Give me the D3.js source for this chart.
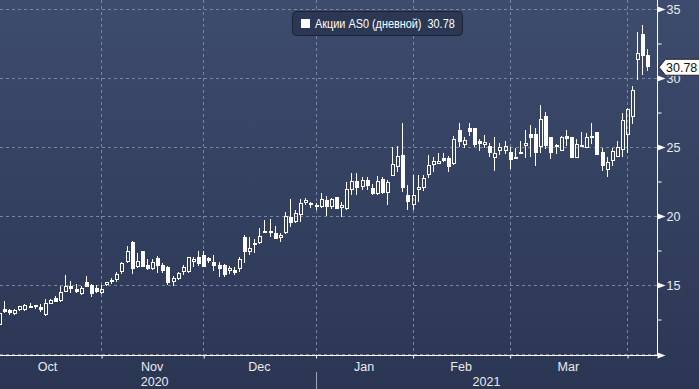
<!DOCTYPE html>
<html><head><meta charset="utf-8">
<script src="https://cdn.jsdelivr.net/npm/d3@7"></script>
<style>html,body{margin:0;padding:0;background:#2e3a57;overflow:hidden}svg{display:block}</style>
</head><body>
<svg id="chart" width="699" height="389"></svg>
<script>
// ---------- DATA ----------
const dates = [
"2020-10-02","2020-10-05","2020-10-06","2020-10-07","2020-10-08","2020-10-09","2020-10-12","2020-10-13","2020-10-14","2020-10-15","2020-10-16","2020-10-19","2020-10-20","2020-10-21","2020-10-22","2020-10-23","2020-10-26","2020-10-27","2020-10-28","2020-10-29","2020-10-30",
"2020-11-02","2020-11-03","2020-11-04","2020-11-05","2020-11-06","2020-11-09","2020-11-10","2020-11-11","2020-11-12","2020-11-13","2020-11-16","2020-11-17","2020-11-18","2020-11-19","2020-11-20","2020-11-23","2020-11-24","2020-11-25","2020-11-27","2020-11-30",
"2020-12-01","2020-12-02","2020-12-03","2020-12-04","2020-12-07","2020-12-08","2020-12-09","2020-12-10","2020-12-11","2020-12-14","2020-12-15","2020-12-16","2020-12-17","2020-12-18","2020-12-21","2020-12-22","2020-12-23","2020-12-24","2020-12-28","2020-12-29","2020-12-30","2020-12-31",
"2021-01-04","2021-01-05","2021-01-06","2021-01-07","2021-01-08","2021-01-11","2021-01-12","2021-01-13","2021-01-14","2021-01-15","2021-01-19","2021-01-20","2021-01-21","2021-01-22","2021-01-25","2021-01-26","2021-01-27","2021-01-28","2021-01-29",
"2021-02-01","2021-02-02","2021-02-03","2021-02-04","2021-02-05","2021-02-08","2021-02-09","2021-02-10","2021-02-11","2021-02-12","2021-02-16","2021-02-17","2021-02-18","2021-02-19","2021-02-22","2021-02-23","2021-02-24","2021-02-25","2021-02-26",
"2021-03-01","2021-03-02","2021-03-03","2021-03-04","2021-03-05","2021-03-08","2021-03-09","2021-03-10","2021-03-11","2021-03-12","2021-03-15","2021-03-16","2021-03-17","2021-03-18","2021-03-19","2021-03-22","2021-03-23","2021-03-24","2021-03-25","2021-03-26","2021-03-29","2021-03-30","2021-03-31",
"2021-04-01","2021-04-05","2021-04-06","2021-04-07","2021-04-08"
];
const opens = [13.0,12.1,13.28,13.17,12.9,13.17,13.2,13.36,13.5,13.43,12.83,13.64,14.03,13.86,14.5,14.93,14.73,14.35,15.24,15.0,14.8,
14.44,15.0,15.2,15.36,15.92,16.7,18.1,16.28,17.46,16.45,16.16,16.98,16.47,16.28,15.2,15.41,15.92,15.97,16.7,17.0,
17.17,16.94,16.7,16.45,16.45,16.0,16.08,16.14,18.5,17.42,18.07,18.02,18.8,18.9,18.8,18.43,18.75,19.95,19.6,20.07,20.96,20.92,
20.67,20.63,21.16,20.67,21.35,20.56,20.49,21.88,22.54,22.08,22.6,22.0,21.57,22.66,21.7,22.9,23.57,24.42,21.52,
20.8,21.88,22.0,22.97,23.7,23.8,24.22,24.18,23.8,26.23,25.14,26.36,26.36,25.43,25.14,25.07,24.18,24.7,24.73,
24.66,24.25,24.54,25.07,25.94,25.94,25.03,27.25,25.7,24.98,24.73,25.8,25.75,24.18,25.0,24.96,25.67,26.1,24.66,23.33,23.99,24.3,24.78,
25.87,27.15,31.3,33.2,31.67];
const highs = [13.5,13.4,13.86,13.28,13.28,13.5,13.6,13.72,13.55,13.6,13.96,14.0,14.2,14.9,15.72,15.3,15.05,14.9,15.66,15.1,15.0,
15.0,15.25,15.5,15.95,16.7,17.85,18.2,17.34,17.46,16.9,16.9,17.1,16.6,16.4,15.65,15.95,16.45,17.05,17.0,17.49,
17.49,17.0,17.2,16.7,16.5,16.4,16.3,17.05,18.6,18.5,18.3,19.1,19.7,19.75,19.3,18.75,20.3,21.2,20.4,21.2,21.3,21.0,
20.95,21.7,21.45,21.3,21.35,21.0,22.5,23.1,23.1,22.85,22.85,22.3,22.9,22.8,22.6,24.98,25.07,26.72,22.25,
22.97,22.97,22.97,24.42,24.3,24.6,24.55,24.35,25.8,26.72,25.7,26.72,26.36,25.6,25.9,25.3,25.7,25.3,25.4,
25.0,24.96,25.4,26.23,26.6,26.35,28.04,27.55,25.75,25.2,25.8,26.2,25.75,25.6,26.1,26.05,26.72,26.1,24.96,24.25,24.9,25.4,27.5,
27.8,29.44,33.35,33.84,32.08];
const lows = [12.3,12.0,13.0,12.8,12.83,13.1,13.12,13.36,13.25,13.07,12.75,13.6,13.75,13.8,14.5,14.4,14.44,14.25,14.83,14.1,14.4,
14.35,14.95,15.1,15.2,15.8,16.57,15.8,16.2,16.28,16.1,16.1,15.9,15.9,15.0,14.93,15.35,15.7,15.9,16.3,16.4,
16.28,16.6,16.0,15.6,15.6,15.8,15.75,15.95,16.57,17.2,17.3,18.0,18.8,18.5,18.3,18.1,18.7,19.23,19.5,19.6,20.8,20.55,
20.4,20.57,20.0,20.5,20.49,19.95,20.45,21.5,21.5,21.88,21.9,21.5,21.5,21.6,20.8,22.9,23.2,21.76,20.43,
20.43,21.0,21.8,22.75,23.2,23.8,23.9,23.2,23.7,25.0,24.95,25.8,25.0,24.7,24.9,24.25,23.28,24.4,24.5,
23.4,24.1,24.54,24.18,24.25,23.65,24.54,24.85,24.1,24.5,24.7,25.1,24.18,24.18,25.0,24.9,25.2,24.42,23.28,22.85,23.6,24.3,24.3,
24.6,26.7,29.86,30.2,30.53];
const closes = [12.6,13.0,13.07,12.95,13.19,13.45,13.55,13.45,13.55,13.2,13.72,13.91,13.8,14.5,14.93,14.7,14.5,14.78,14.83,14.33,14.5,
14.7,15.2,15.36,15.8,16.57,17.49,16.14,16.74,16.33,16.16,16.7,16.38,16.04,15.12,15.49,15.85,16.28,17.0,16.86,16.5,
16.33,16.76,16.38,16.16,15.72,16.2,15.85,16.88,17.4,17.66,17.9,18.55,18.9,18.8,18.33,18.62,20.0,19.52,20.24,20.92,21.16,20.78,
20.8,21.2,20.67,21.2,20.49,20.8,21.96,22.54,22.0,22.6,22.17,21.57,22.54,21.7,22.5,23.77,24.35,22.0,21.04,
21.52,22.08,22.73,23.7,24.0,24.0,24.0,23.53,25.56,25.38,25.5,26.1,25.14,25.2,25.38,24.54,24.54,24.98,25.07,
24.06,24.1,24.66,25.31,25.67,24.54,27.03,25.07,24.6,25.14,25.75,25.56,24.18,25.22,25.14,25.75,25.8,24.42,23.62,23.94,24.71,24.98,26.96,
27.73,29.13,31.83,31.6,30.78];
const yTickValues = [15, 20, 25, 30, 35];
const yMinorTickValues = [12.5, 17.5, 22.5, 27.5, 32.5];
const yGridValues = [10, 15, 20, 25, 30, 35];
const monthNames = ["Jan","Feb","Mar","Apr","May","Jun","Jul","Aug","Sep","Oct","Nov","Dec"];
const legendLabel = "Акции AS0 (дневной)";
const lastValue = 30.78;

// ---------- LAYOUT ----------
const W = 699, H = 389;
const plotRight = 657.5, axisY = 355.5;
const svg = d3.select("#chart");

const x = d3.scaleLinear().domain([0, dates.length - 1]).range([-6.2, -6.2 + (dates.length - 1) * 5.107]);
const y = d3.scaleLinear().domain([10, 35]).range([354, 9]);

// background
const defs = svg.append("defs");
const grad = defs.append("linearGradient").attr("id","bg").attr("x1",0).attr("y1",0).attr("x2",0).attr("y2",1);
grad.append("stop").attr("offset","0%").attr("stop-color","#3d4b6d");
grad.append("stop").attr("offset","100%").attr("stop-color","#2b3653");
svg.append("rect").attr("width",W).attr("height",H).attr("fill","url(#bg)");

// month boundaries from dates
const parsed = dates.map(d => d3.timeParse("%Y-%m-%d")(d));
const monthStarts = [];
parsed.forEach((d, i) => {
  if (i === 0 || d.getMonth() !== parsed[i-1].getMonth()) monthStarts.push({i, m: d.getMonth(), yr: d.getFullYear()});
});

const gridColor = "#7886a6";
// horizontal gridlines
svg.append("g").selectAll("line").data(yGridValues).join("line")
  .attr("x1", 0).attr("x2", plotRight)
  .attr("y1", d => Math.round(y(d)) + 0.5).attr("y2", d => Math.round(y(d)) + 0.5)
  .attr("stroke", gridColor).attr("stroke-dasharray", "3,3").attr("stroke-width", 1);
// vertical gridlines
svg.append("g").selectAll("line").data(monthStarts.filter(m => x(m.i) > 0)).join("line")
  .attr("x1", d => Math.round(x(d.i)) + 0.5).attr("x2", d => Math.round(x(d.i)) + 0.5)
  .attr("y1", 0).attr("y2", axisY)
  .attr("stroke", gridColor).attr("stroke-dasharray", "3,3").attr("stroke-width", 1);

// candles
const g = svg.append("g").attr("shape-rendering","crispEdges");
dates.forEach((d, i) => {
  const o = opens[i], h = highs[i], l = lows[i], c = closes[i];
  const r = Math.round(x(i));
  const top = Math.round(y(Math.max(o, c))), bot = Math.max(Math.round(y(Math.min(o, c))), top + 1);
  const yh = Math.round(y(h)), yl = Math.round(y(l));
  const up = c > o;
  if (up) {
    g.append("line").attr("x1", r + 0.5).attr("x2", r + 0.5).attr("y1", yh).attr("y2", top).attr("stroke", "#fff");
    g.append("line").attr("x1", r + 0.5).attr("x2", r + 0.5).attr("y1", bot).attr("y2", yl).attr("stroke", "#fff");
    g.append("rect").attr("x", r - 0.5).attr("y", top + 0.5).attr("width", 3).attr("height", Math.max(bot - top - 1, 1))
      .attr("fill", "none").attr("stroke", "#fff").attr("stroke-width", 1);
  } else {
    g.append("line").attr("x1", r + 0.5).attr("x2", r + 0.5).attr("y1", yh).attr("y2", yl).attr("stroke", "#fff");
    g.append("rect").attr("x", r - 1).attr("y", top).attr("width", 4).attr("height", Math.max(bot - top, 1)).attr("fill", "#fff");
  }
});

// x axis
const xAxis = d3.axisBottom(x).tickValues(monthStarts.map(m => m.i).filter(i => x(i) > 0)).tickSize(3).tickFormat("");
const xg = svg.append("g").attr("transform", `translate(0.5,${axisY})`).call(xAxis);
xg.select(".domain").remove();
xg.selectAll(".tick line").attr("stroke", "#fff");
svg.append("line").attr("x1", 0).attr("x2", plotRight + 2).attr("y1", axisY).attr("y2", axisY).attr("stroke", "#fff");
svg.append("path").attr("d", `M${plotRight},${axisY-3} L${plotRight+8},${axisY} L${plotRight},${axisY+3}Z`).attr("fill", "#fff");

const fontFam = "'Liberation Sans', Arial, sans-serif";
// month labels
const labelMonths = monthStarts.slice(0, -1);
svg.append("g").selectAll("text").data(labelMonths).join("text")
  .attr("x", (d, k) => (x(d.i) + x(monthStarts[k+1].i)) / 2)
  .attr("y", 371).attr("text-anchor", "middle")
  .attr("font-family", fontFam).attr("font-size", 12.5).attr("fill", "#e9ebf0")
  .text(d => monthNames[d.m]);
// year labels
const years = Array.from(new Set(monthStarts.map(m => m.yr)));
const yearBounds = years.map(yr => {
  const first = monthStarts.find(m => m.yr === yr).i;
  const nextYear = monthStarts.find(m => m.yr > yr);
  return {yr, x0: x(first), x1: nextYear ? x(nextYear.i) : plotRight};
});
svg.append("g").selectAll("text").data(yearBounds).join("text")
  .attr("x", d => (d.x0 + d.x1) / 2).attr("y", 385.5)
  .attr("text-anchor", "middle").attr("font-family", fontFam).attr("font-size", 12.5).attr("fill", "#e9ebf0")
  .text(d => d.yr);
svg.append("g").selectAll("line").data(yearBounds.slice(1)).join("line")
  .attr("x1", d => Math.round(d.x0) + 0.5).attr("x2", d => Math.round(d.x0) + 0.5)
  .attr("y1", 372).attr("y2", H).attr("stroke", "#9aa5be");

// y axis
svg.append("line").attr("x1", plotRight).attr("x2", plotRight).attr("y1", 0).attr("y2", axisY).attr("stroke", "#fff");
const yAxis = d3.axisRight(y).tickValues(yTickValues).tickSize(0).tickPadding(9).tickFormat(d3.format("d"));
const yg = svg.append("g").attr("transform", `translate(${plotRight},0)`).call(yAxis);
yg.select(".domain").remove();
yg.selectAll(".tick text").attr("font-family", fontFam).attr("font-size", 12.5).attr("fill", "#e9ebf0").attr("dy", "0.36em");
yg.selectAll(".tick").append("path").attr("d", "M0,-3 L8,0 L0,3Z").attr("fill", "#fff");
const yMinor = d3.axisRight(y).tickValues(yMinorTickValues).tickSize(4).tickFormat("");
const ym = svg.append("g").attr("transform", `translate(${plotRight},0)`).call(yMinor);
ym.select(".domain").remove();
ym.selectAll(".tick line").attr("stroke", "#fff");

// last value label
const ly = y(lastValue);
svg.append("path")
  .attr("d", `M${plotRight+1.5},${ly} L${plotRight+8},${ly-8} L${W+2},${ly-8} L${W+2},${ly+8} L${plotRight+8},${ly+8}Z`)
  .attr("fill", "#fff").attr("stroke", "#222").attr("stroke-width", 1);
svg.append("text").attr("x", 666).attr("y", ly + 4.5)
  .attr("font-family", fontFam).attr("font-size", 12.5).attr("fill", "#111").text(d3.format(".2f")(lastValue));

// legend
const lg = svg.append("g");
lg.append("rect").attr("x", 292.5).attr("y", 11.5).attr("width", 170).attr("height", 24).attr("rx", 4)
  .attr("fill", "#2c3754").attr("stroke", "#1b2235");
lg.append("rect").attr("x", 301).attr("y", 19).attr("width", 9).attr("height", 9).attr("fill", "#fff");
const legendText = lg.append("text").attr("x", 0).attr("y", 0)
  .attr("font-family", fontFam).attr("font-size", 12).attr("fill", "#fff")
  .style("white-space", "pre")
  .text(legendLabel + "  " + d3.format(".2f")(lastValue));
const tw = legendText.node().getComputedTextLength();
const sx = tw > 0 ? 140 / tw : 1;
legendText.attr("transform", `translate(315,28) scale(${sx.toFixed(4)},1)`);
</script>
</body></html>
